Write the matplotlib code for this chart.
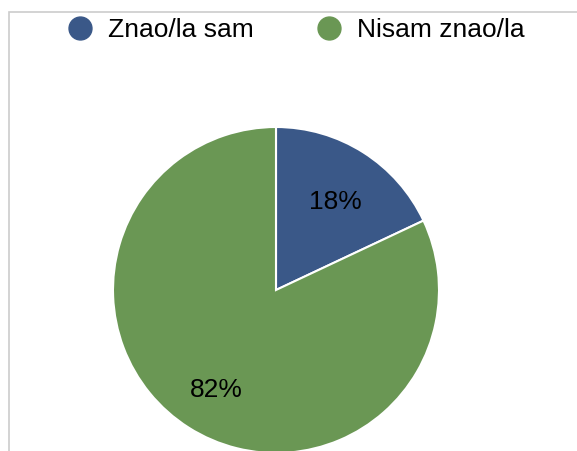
import matplotlib
matplotlib.use("Agg")
import matplotlib.pyplot as plt
import matplotlib.transforms as mtransforms
from matplotlib.lines import Line2D
from matplotlib.patches import Rectangle

# Data
labels = ['Znao/la sam', 'Nisam znao/la']
values = [18, 82]
colors = ['#3a5888', '#6a9754']

plt.rcParams['font.family'] = ['Liberation Sans', 'DejaVu Sans']

W, H = 577, 451
fig = plt.figure(figsize=(W / 100, H / 100), dpi=100)

# light grey frame, cut off at right and bottom
fig.add_artist(Rectangle((9 / W, -0.1), 1.2, 1 - 12 / H + 0.1, transform=fig.transFigure,
                         fill=False, edgecolor='#cccccc', linewidth=1.2))

cx, cy, r = 276, 290, 163
ax = fig.add_axes([(cx - r) / W, (H - cy - r) / H, 2 * r / W, 2 * r / H])
wedges, texts, autotexts = ax.pie(values, colors=colors, startangle=90, counterclock=False,
                                  autopct='%1.0f%%', pctdistance=0.68,
                                  wedgeprops=dict(edgecolor='white', linewidth=1.5),
                                  textprops=dict(fontsize=19, color='black'))
# nudge percentage labels down a little
for t in autotexts:
    t.set_transform(mtransforms.offset_copy(t.get_transform(), fig=fig, x=0, y=-6, units='dots'))

ax.set_xlim(-1, 1)
ax.set_ylim(-1, 1)
ax.set_aspect('equal')

handles = [Line2D([], [], marker='o', linestyle='none', markersize=16.5,
                  markerfacecolor=c, markeredgecolor=c) for c in colors]
fig.legend(handles, labels, ncol=2, loc='center left', bbox_to_anchor=(66.8 / W, 1 - 30 / H),
           frameon=False, fontsize=19, handlelength=1.0, handletextpad=0.56,
           columnspacing=2.35, borderpad=0, borderaxespad=0)

fig.savefig('out.png', dpi=100)
